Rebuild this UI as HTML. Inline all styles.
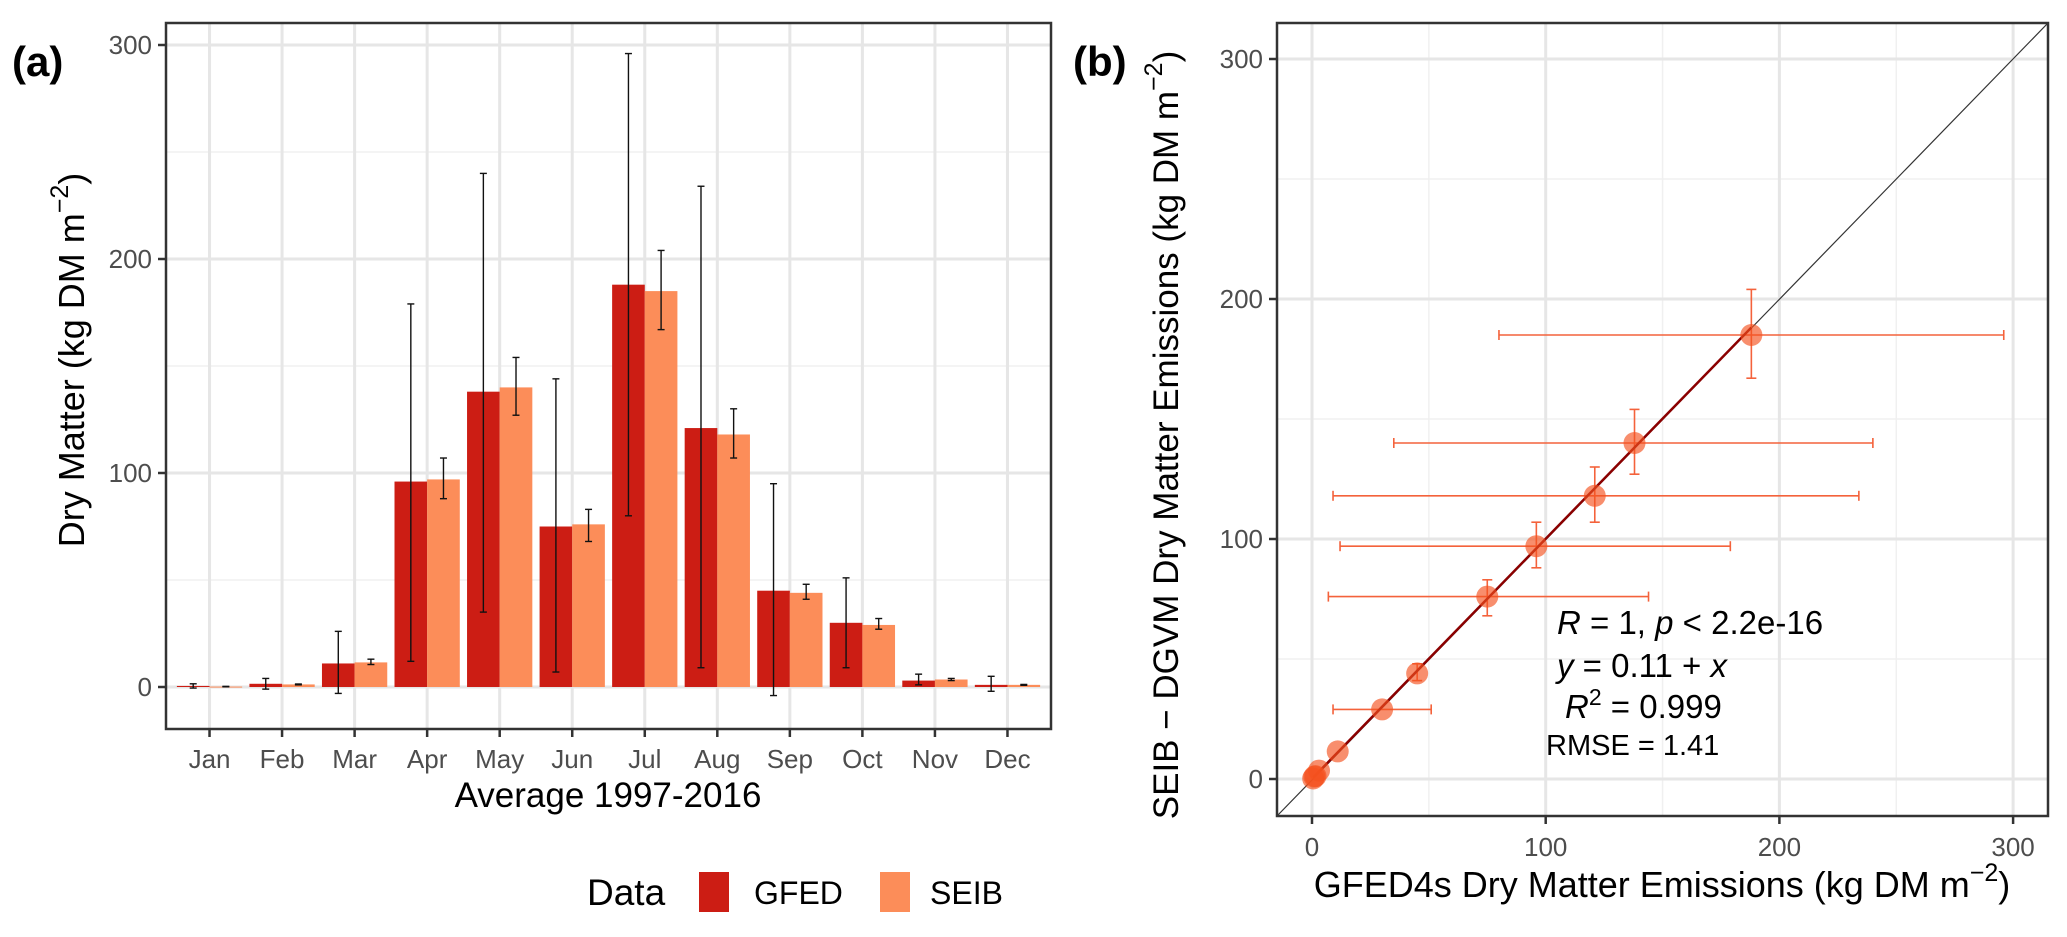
<!DOCTYPE html>
<html><head><meta charset="utf-8">
<style>
html,body{margin:0;padding:0;background:#fff;}
svg{display:block;font-family:"Liberation Sans",Arial,sans-serif;}
</style></head>
<body>
<svg id="fig" width="2067" height="937" viewBox="0 0 2067 937" xmlns="http://www.w3.org/2000/svg">
<g id="panelA"></g>
<g id="panelB"></g>
</svg>
<script>
const months = ["Jan","Feb","Mar","Apr","May","Jun","Jul","Aug","Sep","Oct","Nov","Dec"];
const gfedVals = [0.5,1.5,11,96,138,75,188,121,45,30,3,1];
const seibVals = [0.2,1.2,11.5,97,140,76,185,118,44,29,3.5,1];
const gfedLo = [-0.5,-1,-3,12,35,7,80,9,-4,9,1,-2];
const gfedHi = [1.5,4,26,179,240,144,296,234,95,51,6,5];
const seibLo = [0.1,1,10.5,88,127,68,167,107,41,27,3,0.8];
const seibHi = [0.3,1.4,13,107,154,83,204,130,48,32,4,1.2];
const yTicksA = [0,100,200,300];
const xTicksB = [0,100,200,300];
const yTicksB = [0,100,200,300];

const NS="http://www.w3.org/2000/svg";
function mk(parent,tag,attrs,text){const e=document.createElementNS(NS,tag);for(const k in attrs)e.setAttribute(k,attrs[k]);if(text!==undefined)e.textContent=text;parent.appendChild(e);return e;}

// ---------- Panel A ----------
const A=document.getElementById('panelA');
const aL=166,aR=1051,aT=23,aB=729;
const unitA=(aR-aL)/12.2;
const xA=i=>aL+unitA*(0.6+i);
const yA=v=>687-v*2.14;
mk(A,'rect',{x:aL,y:aT,width:aR-aL,height:aB-aT,fill:'#fff'});
[50,150,250].forEach(v=>{const g=mk(A,'line',{x1:aL,x2:aR,y1:yA(v),y2:yA(v),stroke:'#f0f0f0','stroke-width':1.5});

});
yTicksA.forEach(v=>{const g=mk(A,'line',{x1:aL,x2:aR,y1:yA(v),y2:yA(v),stroke:'#e6e6e6','stroke-width':3});

});
months.forEach((m,i)=>{const g=mk(A,'line',{x1:xA(i),x2:xA(i),y1:aT,y2:aB,stroke:'#e6e6e6','stroke-width':3});

});
const bw=unitA*0.45;
months.forEach((m,i)=>{
  const g1=yA(gfedVals[i]),s1=yA(seibVals[i]),z=yA(0);
  const b1=mk(A,'rect',{x:xA(i)-bw,y:Math.min(g1,z),width:bw,height:Math.max(Math.abs(z-g1),1),fill:'#cc1d14'});
  
  
  const b2=mk(A,'rect',{x:xA(i),y:Math.min(s1,z),width:bw,height:Math.max(Math.abs(z-s1),1),fill:'#fc8d59'});
  
  
  [[xA(i)-bw/2,gfedLo[i],gfedHi[i],'gfed'],[xA(i)+bw/2,seibLo[i],seibHi[i],'seib']].forEach(e=>{
    const eg=mk(A,'g',{stroke:'#111','stroke-width':1.4});
    
    
    mk(eg,'line',{x1:e[0],x2:e[0],y1:yA(e[1]),y2:yA(e[2])});
    mk(eg,'line',{x1:e[0]-3.5,x2:e[0]+3.5,y1:yA(e[1]),y2:yA(e[1])});
    mk(eg,'line',{x1:e[0]-3.5,x2:e[0]+3.5,y1:yA(e[2]),y2:yA(e[2])});
  });
});
mk(A,'rect',{x:aL,y:aT,width:aR-aL,height:aB-aT,fill:'none',stroke:'#333','stroke-width':2.5});
yTicksA.forEach(v=>{
  mk(A,'line',{x1:aL-8,x2:aL,y1:yA(v),y2:yA(v),stroke:'#333','stroke-width':2.5});
  const t=mk(A,'text',{x:aL-14,y:yA(v)+9,'text-anchor':'end','font-size':26,fill:'#4d4d4d'},String(v));
  
  
});
months.forEach((m,i)=>{
  mk(A,'line',{x1:xA(i),x2:xA(i),y1:aB,y2:aB+8,stroke:'#333','stroke-width':2.5});
  const t=mk(A,'text',{x:xA(i),y:aB+39,'text-anchor':'middle','font-size':26,fill:'#4d4d4d'},m);
  
  
});
</script>
<script>
(function(){
const A=document.getElementById('panelA');
A.insertAdjacentHTML('beforeend',
'<text x="12" y="76" font-size="42" font-weight="bold" fill="#000">(a)</text>'+
'<text transform="translate(84,360) rotate(-90)" text-anchor="middle" font-size="36" fill="#000">Dry Matter (kg DM m<tspan dy="-16" font-size="25">−2</tspan><tspan dy="16">)</tspan></text>'+
'<text x="608" y="807" text-anchor="middle" font-size="35" fill="#000">Average 1997-2016</text>'+
'<g>'+
'<text x="587" y="905" font-size="37" fill="#000">Data</text>'+
'<rect x="699" y="872" width="30" height="40" fill="#cc1d14"/>'+
'<text x="754" y="904" font-size="32" fill="#000">GFED</text>'+
'<rect x="880" y="872" width="30" height="40" fill="#fc8d59"/>'+
'<text x="930" y="904" font-size="32" fill="#000">SEIB</text>'+
'</g>');
})();
</script>
<script>
// ---------- Panel B ----------
const gfedX = [0.5,1.5,11,96,138,75,188,121,45,30,3,1];
const seibY = [0.2,1.2,11.5,97,140,76,185,118,44,29,3.5,1];
const xErrLo = [0,0,0,12,35,7,80,9,0,9,0,0];
const xErrHi = [0,0,0,179,240,144,296,234,0,51,0,0];
const yErrLo = [0,0,0,88,127,68,167,107,41,0,0,0];
const yErrHi = [0,0,0,107,154,83,204,130,48,0,0,0];
const fitIntercept = 0.11;
const fitSlope = 1;

(function(){
const B=document.getElementById('panelB');
const bL=1277,bR=2048,bT=23,bB=816;
const xB=v=>1312+v*2.337;
const yB=v=>779-v*2.4;
mk(B,'rect',{x:bL,y:bT,width:bR-bL,height:bB-bT,fill:'#fff'});
[50,150,250].forEach(v=>{
  mk(B,'line',{x1:bL,x2:bR,y1:yB(v),y2:yB(v),stroke:'#f0f0f0','stroke-width':1.5});
  mk(B,'line',{x1:xB(v),x2:xB(v),y1:bT,y2:bB,stroke:'#f0f0f0','stroke-width':1.5});
});
yTicksB.forEach(v=>{const g=mk(B,'line',{x1:bL,x2:bR,y1:yB(v),y2:yB(v),stroke:'#e6e6e6','stroke-width':3});

});
xTicksB.forEach(v=>{const g=mk(B,'line',{x1:xB(v),x2:xB(v),y1:bT,y2:bB,stroke:'#e6e6e6','stroke-width':3});

});
const one=mk(B,'line',{x1:bL,y1:bB,x2:bR,y2:bT,stroke:'#333','stroke-width':1.2});


const ec='#f4623b';
gfedX.forEach((gx,i)=>{
  if(xErrHi[i]>0){const g=mk(B,'g',{stroke:ec,'stroke-width':1.6});
    
    
    const y=yB(seibY[i]);
    mk(g,'line',{x1:xB(xErrLo[i]),x2:xB(xErrHi[i]),y1:y,y2:y});
    mk(g,'line',{x1:xB(xErrLo[i]),x2:xB(xErrLo[i]),y1:y-5,y2:y+5});
    mk(g,'line',{x1:xB(xErrHi[i]),x2:xB(xErrHi[i]),y1:y-5,y2:y+5});}
  if(yErrHi[i]>0){const g=mk(B,'g',{stroke:ec,'stroke-width':1.6});
    
    
    const x=xB(gx);
    mk(g,'line',{x1:x,x2:x,y1:yB(yErrLo[i]),y2:yB(yErrHi[i])});
    mk(g,'line',{x1:x-5,x2:x+5,y1:yB(yErrLo[i]),y2:yB(yErrLo[i])});
    mk(g,'line',{x1:x-5,x2:x+5,y1:yB(yErrHi[i]),y2:yB(yErrHi[i])});}
});
const xmin=Math.min(...gfedX),xmax=Math.max(...gfedX);
const fit=mk(B,'line',{x1:xB(xmin),y1:yB(fitIntercept+fitSlope*xmin),x2:xB(xmax),y2:yB(fitIntercept+fitSlope*xmax),stroke:'#8b0000','stroke-width':2.5});


gfedX.forEach((gx,i)=>{
  const c=mk(B,'circle',{cx:xB(gx),cy:yB(seibY[i]),r:11,fill:'#f4511e','fill-opacity':0.65});
  
  
});
mk(B,'rect',{x:bL,y:bT,width:bR-bL,height:bB-bT,fill:'none',stroke:'#333','stroke-width':2.5});
xTicksB.forEach(v=>{
  mk(B,'line',{x1:xB(v),x2:xB(v),y1:bB,y2:bB+8,stroke:'#333','stroke-width':2.5});
  const t=mk(B,'text',{x:xB(v),y:bB+40,'text-anchor':'middle','font-size':26,fill:'#4d4d4d'},String(v));
  
  
});
yTicksB.forEach(v=>{
  mk(B,'line',{x1:bL-8,x2:bL,y1:yB(v),y2:yB(v),stroke:'#333','stroke-width':2.5});
  const t=mk(B,'text',{x:bL-14,y:yB(v)+9,'text-anchor':'end','font-size':26,fill:'#4d4d4d'},String(v));
  
  
});
B.insertAdjacentHTML('beforeend',
'<text x="1073" y="76" font-size="42" font-weight="bold" fill="#000">(b)</text>'+
'<text transform="translate(1178,435) rotate(-90)" text-anchor="middle" font-size="35" fill="#000">SEIB − DGVM Dry Matter Emissions (kg  DM m<tspan dy="-16" font-size="25">−2</tspan><tspan dy="16">)</tspan></text>'+
'<text x="1662" y="897" text-anchor="middle" font-size="36" fill="#000">GFED4s Dry Matter Emissions (kg  DM m<tspan dy="-16" font-size="25">−2</tspan><tspan dy="16">)</tspan></text>'+
'<text x="1557" y="634" font-size="33" fill="#000"><tspan font-style="italic">R</tspan> = 1, <tspan font-style="italic">p</tspan> &lt; 2.2e-16</text>'+
'<text x="1557" y="677" font-size="33" fill="#000"><tspan font-style="italic">y</tspan> = 0.11 +  <tspan font-style="italic">x</tspan></text>'+
'<text x="1565" y="718" font-size="33" fill="#000"><tspan font-style="italic">R</tspan><tspan dy="-13" font-size="23">2</tspan><tspan dy="13"> = 0.999</tspan></text>'+
'<text x="1546" y="755" font-size="29" fill="#000">RMSE = 1.41</text>');
})();
</script>
</body></html>
